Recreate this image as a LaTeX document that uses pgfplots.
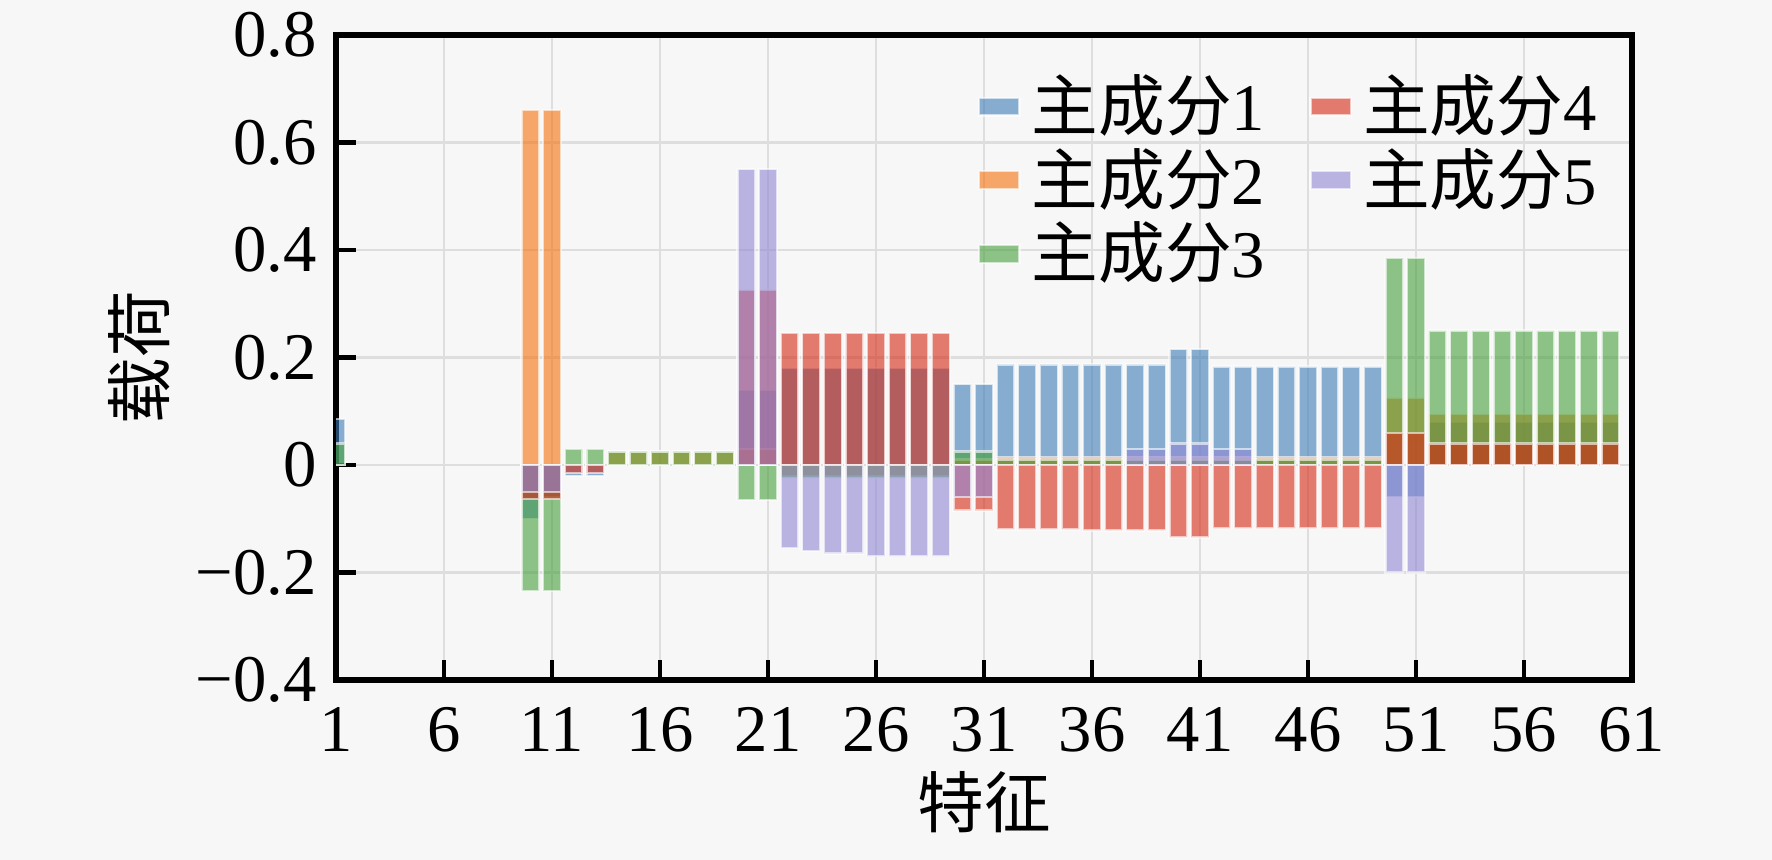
\documentclass[border=0pt]{standalone}
\usepackage{fontspec}
\setmainfont{Liberation Serif}
\newfontfamily\cjk{Noto Sans CJK SC}
\usepackage{pgfplots}
\usepackage{pgfplotstable}
\pgfplotsset{compat=1.18}
\definecolor{bg}{HTML}{F7F7F7}
\definecolor{c1}{RGB}{59,124,182}
\definecolor{c2}{RGB}{245,112,9}
\definecolor{c3}{RGB}{69,159,57}
\definecolor{c4}{RGB}{212,40,20}
\definecolor{c5}{RGB}{145,135,212}
\pgfplotstableread{
x a b c d e
1 0.085 nan 0.04 nan nan
10 -0.10 0.66 -0.235 -0.064 -0.05
11 -0.06 0.66 -0.235 -0.064 -0.05
12 -0.02 nan 0.03 -0.015 nan
13 -0.02 nan 0.03 -0.015 nan
14 nan 0.025 0.025 nan nan
15 nan 0.025 0.025 nan nan
16 nan 0.025 0.025 nan nan
17 nan 0.025 0.025 nan nan
18 nan 0.025 0.025 nan nan
19 nan 0.025 0.025 nan nan
20 0.14 0.03 -0.065 0.326 0.55
21 0.14 0.03 -0.065 0.326 0.55
22 0.18 -0.02 -0.025 0.245 -0.155
23 0.18 -0.02 -0.025 0.245 -0.16
24 0.18 -0.02 -0.025 0.245 -0.165
25 0.18 -0.02 -0.025 0.245 -0.165
26 0.18 -0.02 -0.025 0.245 -0.17
27 0.18 -0.02 -0.025 0.245 -0.17
28 0.18 -0.02 -0.025 0.245 -0.17
29 0.18 -0.02 -0.025 0.245 -0.17
30 0.15 0.01 0.025 -0.085 -0.06
31 0.15 0.01 0.025 -0.085 -0.06
32 0.187 0.015 0.01 -0.12 nan
33 0.187 0.015 0.01 -0.12 nan
34 0.187 0.015 0.01 -0.12 nan
35 0.187 0.015 0.01 -0.12 nan
36 0.187 0.015 0.01 -0.122 nan
37 0.187 0.015 0.01 -0.122 nan
38 0.187 0.015 0.01 -0.122 0.03
39 0.187 0.015 0.01 -0.122 0.03
40 0.215 0.015 0.01 -0.135 0.04
41 0.215 0.015 0.01 -0.135 0.04
42 0.183 0.015 0.01 -0.118 0.03
43 0.183 0.015 0.01 -0.118 0.03
44 0.183 0.015 0.01 -0.118 nan
45 0.183 0.015 0.01 -0.118 nan
46 0.183 0.015 0.01 -0.118 nan
47 0.183 0.015 0.01 -0.118 nan
48 0.183 0.015 0.01 -0.118 nan
49 0.183 0.015 0.01 -0.118 nan
50 -0.06 0.125 0.385 0.06 -0.2
51 -0.06 0.125 0.385 0.06 -0.2
52 0.08 0.095 0.25 0.04 nan
53 0.08 0.095 0.25 0.04 nan
54 0.08 0.095 0.25 0.04 nan
55 0.08 0.095 0.25 0.04 nan
56 0.08 0.095 0.25 0.04 nan
57 0.08 0.095 0.25 0.04 nan
58 0.08 0.095 0.25 0.04 nan
59 0.08 0.095 0.25 0.04 nan
60 0.08 0.095 0.25 0.04 nan
}\loadings
\begin{document}
\begin{tikzpicture}
\fill[bg] (-60.5pt,-32.4pt) rectangle (258.5pt,122.4pt);
\begin{axis}[
  at={(0pt,0pt)}, anchor=south west,
  scale only axis, width=233.3pt, height=116.1pt,
  xmin=1, xmax=61, ymin=-0.4, ymax=0.8,
  xtick={1,6,11,16,21,26,31,36,41,46,51,56,61},
  xticklabels={1,6,11,16,21,26,31,36,41,46,51,56,61},
  ytick={-0.4,-0.2,0,0.2,0.4,0.6,0.8},
  yticklabels={−0.4,−0.2,0,0.2,0.4,0.6,0.8},
  tick pos=left, tick align=inside, major tick length=3.5pt,
  every tick/.style={black, line width=0.8pt},
  axis line style={line width=1.2pt, black},
  grid=major, grid style={line width=0.5pt, color=black!13},
  axis background/.style={fill=bg},
  ticklabel style={font=\fontsize{12}{14}\selectfont},
  xticklabel style={yshift=-1.5pt},
  xlabel={{\cjk 特征}}, ylabel={{\cjk 载荷}},
  label style={font=\fontsize{12}{14}\selectfont},
  xlabel style={at={(axis description cs:0.5,-0.19)}, anchor=center},
  ylabel style={at={(axis description cs:-0.152,0.5)}, anchor=center},
  legend columns=2,
  legend style={at={(axis description cs:0.995,0.975)}, anchor=north east,
    draw=none, fill=none, font=\fontsize{12}{14}\selectfont,
    /tikz/every even column/.append style={column sep=6pt},
    row sep=-2.3pt},
  legend image code/.code={\fill[#1] (0.5pt,-1.6pt) rectangle (7.8pt,1.6pt);},
  every axis plot/.append style={ybar, bar width=0.82, bar shift=0pt,
    fill opacity=0.6, draw=white, draw opacity=0.6, line width=0.4pt, forget plot},
]
\addplot[fill=c1] table[x=x,y=a]{\loadings};
\addplot[fill=c2] table[x=x,y=b]{\loadings};
\addplot[fill=c3] table[x=x,y=c]{\loadings};
\addplot[fill=c4] table[x=x,y=d]{\loadings};
\addplot[fill=c5] table[x=x,y=e]{\loadings};
\addlegendimage{fill=c1, fill opacity=0.6}
\addlegendentry{{\cjk 主成分}1}
\addlegendimage{fill=c4, fill opacity=0.6}
\addlegendentry{{\cjk 主成分}4}
\addlegendimage{fill=c2, fill opacity=0.6}
\addlegendentry{{\cjk 主成分}2}
\addlegendimage{fill=c5, fill opacity=0.6}
\addlegendentry{{\cjk 主成分}5}
\addlegendimage{fill=c3, fill opacity=0.6}
\addlegendentry{{\cjk 主成分}3}
\end{axis}
\pgfresetboundingbox
\path[use as bounding box] (-60.5pt,-32.4pt) rectangle (258.5pt,122.4pt);
\end{tikzpicture}
\end{document}
